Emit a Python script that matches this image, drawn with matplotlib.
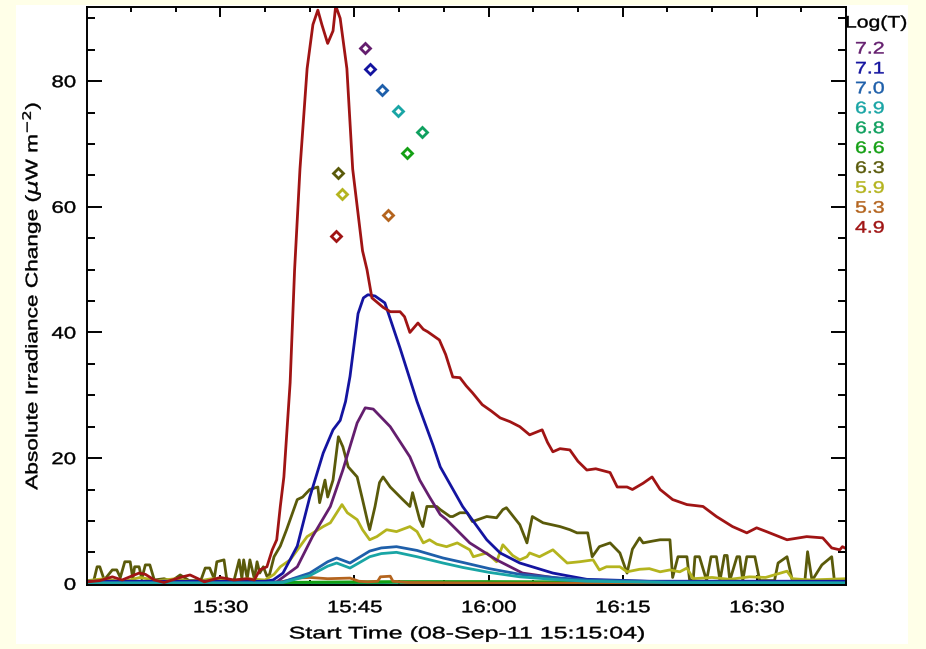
import matplotlib
matplotlib.use("Agg")
import matplotlib.pyplot as plt
from matplotlib.patches import Rectangle
from matplotlib.ticker import MultipleLocator, FixedLocator
from matplotlib.patheffects import AbstractPathEffect
from matplotlib.transforms import Affine2D

plt.rcParams['font.family'] = ['Liberation Sans', 'DejaVu Sans']

# ---- data: time in minutes after 15:00, values in uW m^-2 ----
t_72 = [15.07, 35, 36.3, 38.6, 40.3, 42.3, 43.7, 45.3, 46.2, 47.1, 49.0, 51.2, 52.3, 53.4, 54.6, 55.3, 57.9, 60.9, 63.8, 69.1, 78.0, 100.0]
v_72 = [0.2, 0.2, 0.3, 2.7, 7.5, 12.3, 18.1, 25.6, 28.0, 27.8, 25.0, 20.2, 16.5, 13.8, 11.0, 10.2, 6.5, 3.8, 1.7, 0.6, 0.3, 0.2]

t_71 = [15.07, 35, 35.9, 37.0, 38.6, 40.0, 41.5, 42.6, 43.4, 44.0, 44.5, 45.4, 46.0, 46.5, 47.3, 48.4, 50.1, 52.0, 53.8, 54.6, 57.1, 59.8, 61.3, 63.5, 67.2, 71.0, 78.0, 100.0]
v_71 = [0.4, 0.4, 0.6, 1.7, 6.0, 13.8, 20.8, 24.5, 26.0, 29.0, 33.0, 43.0, 45.5, 46.0, 45.8, 44.7, 37.5, 29.0, 22.0, 18.6, 12.3, 7.0, 4.9, 3.3, 1.7, 0.7, 0.4, 0.4]

t_70 = [15.07, 35, 37, 40, 42, 43, 44.5, 46.7, 48, 49.7, 52, 54.9, 57.1, 60.1, 63.5, 67.2, 71, 80, 100]
v_70 = [0.2, 0.2, 0.3, 1.7, 3.5, 4.1, 3.3, 5.2, 5.7, 5.9, 5.3, 4.1, 3.4, 2.4, 1.5, 1.0, 0.6, 0.3, 0.2]

t_69 = [15.07, 35, 37, 40, 42, 43, 44.5, 46.7, 48, 49.7, 52, 54.9, 57.1, 60.1, 63.5, 67.2, 71, 80, 100]
v_69 = [0.1, 0.1, 0.2, 1.3, 2.8, 3.3, 2.5, 4.3, 4.8, 5.0, 4.3, 3.3, 2.6, 1.8, 1.1, 0.7, 0.4, 0.2, 0.1]

t_68 = [15.07, 30, 40, 50, 60, 70, 80, 90, 100]
v_68 = [0.05, 0.05, 0.1, 0.2, 0.2, 0.15, 0.1, 0.05, 0.05]

t_66 = [15.07, 30, 40, 50, 60, 70, 80, 90, 100]
v_66 = [0.15, 0.15, 0.25, 0.35, 0.35, 0.3, 0.2, 0.2, 0.2]

t_63 = [15.1, 15.8, 16.2, 16.5, 17.0, 17.9, 18.4, 18.8, 19.3, 19.9, 20.2, 20.4, 20.9, 21.2, 21.6, 22.1, 22.6, 23.7, 24.5, 25.5, 26.5,
        27.8, 28.3, 28.8, 29.3, 29.6, 30.4, 30.7, 31.5, 32.1, 32.4, 32.6, 33.0, 33.3, 33.8, 34.1, 34.4, 34.8, 35.2, 35.5, 36.0, 36.7,
        37.4, 37.8, 38.6, 39.2, 40.0, 40.9, 41.1, 41.7, 42.0, 42.6, 43.2, 43.7, 44.3, 45.3, 45.9, 46.5, 46.7, 47.3, 47.8, 48.2, 49.0,
        50.4, 51.2, 51.5, 52.3, 52.65, 53.1, 54.2, 54.6, 55.7, 56.0, 56.8, 57.6, 58.2, 59.8, 60.9, 61.6, 62.0, 63.5, 64.3, 64.9, 66.1,
        68.0, 69.1, 69.9, 71.1, 71.6, 72.4, 73.6, 74.7, 75.5, 76.1, 76.9, 77.3, 78.4, 79.2, 80.0, 80.3, 80.6, 81.2, 82.2, 82.5, 82.9,
        83.1, 83.6, 84.4, 84.9, 85.5, 85.9, 86.4, 86.7, 87.0, 87.8, 88.1, 88.45, 88.9, 89.8, 90.35, 92.0, 92.4, 93.4, 94.0, 95.4, 95.7,
        96.2, 97.3, 98.4, 98.7, 100.0]
v_63 = [0.3, 0.3, 2.7, 2.7, 0.6, 2.2, 2.2, 1.0, 3.5, 3.5, 0.8, 2.7, 2.7, 0.8, 3.0, 3.0, 0.6, 0.8, 0.4, 1.4, 0.5,
        0.5, 2.5, 2.5, 0.8, 3.5, 3.8, 0.8, 0.4, 3.8, 0.8, 3.8, 0.8, 3.8, 0.8, 3.5, 1.7, 2.7, 1.2, 1.5, 4.3, 6.0,
        8.6, 10.2, 13.4, 13.8, 15.0, 15.4, 12.9, 16.5, 13.8, 16.5, 23.4, 21.8, 18.6, 17.0, 13.4, 9.7, 8.6, 12.3, 16.1, 17.0, 15.4,
        13.4, 12.3, 14.5, 10.2, 9.1, 12.3, 12.3, 11.8, 10.7, 10.7, 11.3, 11.3, 9.9, 10.7, 10.5, 11.8, 12.1, 9.4, 6.5, 10.7, 9.7,
        9.1, 8.6, 8.1, 8.1, 4.3, 5.9, 6.5, 4.9, 1.7, 5.5, 7.3, 6.5, 6.8, 7.0, 7.0, 7.0, 1.0, 4.3, 4.3, 0.6, 0.6,
        4.3, 4.3, 0.5, 4.3, 4.3, 0.5, 4.5, 4.5, 0.5, 4.3, 4.3, 0.5, 4.3, 4.3, 0.5, 0.5, 3.3, 4.3, 0.5, 0.5, 5.1,
        0.5, 3.0, 4.3, 0.5, 0.5]

t_59 = [15.1, 17, 19, 21, 23, 25, 27, 29, 31, 33, 35, 36.0, 36.7, 37.8, 39.7, 41.5, 42.3, 43.6, 44.2, 45.3, 45.9, 46.7, 47.5,
        48.6, 49.7, 51.2, 52.0, 52.7, 53.4, 54.2, 55.3, 56.5, 57.9, 58.3, 59.8, 60.9, 61.6, 62.7, 63.5, 64.3, 64.6, 65.7, 67.2,
        68.8, 70.2, 71.7, 72.4, 73.2, 74.7, 75.5, 76.9, 78.0, 79.2, 80.3, 81.4, 82.2, 82.9, 85, 87, 89.2, 91, 93.4, 94, 96, 98, 100]
v_59 = [0.5, 0.8, 0.3, 1.0, 0.5, 0.8, 0.3, 0.8, 0.4, 0.8, 0.6, 1.5, 2.7, 3.8, 7.5, 9.1, 9.7, 12.6, 11.3, 10.2, 8.6, 7.0, 7.5,
        8.6, 8.3, 9.1, 8.3, 6.5, 7.0, 6.3, 5.9, 6.5, 5.4, 4.3, 4.9, 3.5, 6.2, 4.5, 3.8, 4.3, 4.9, 4.3, 5.4,
        3.3, 3.5, 3.8, 2.2, 2.7, 2.7, 1.9, 2.3, 2.4, 1.9, 2.2, 1.9, 2.5, 0.8, 1.0, 0.7, 1.1, 1.0, 2.0, 0.8, 0.6, 0.7, 0.8]

t_53 = [15.07, 36, 37.5, 38.5, 40, 42, 44.5, 45.5, 46.5, 47.6, 47.9, 49.0, 49.3, 51, 60, 100]
v_53 = [0.05, 0.1, 0.5, 0.9, 1.0, 0.8, 0.9, 0.4, 0.3, 0.4, 1.1, 1.2, 0.4, 0.2, 0.1, 0.05]

t_49 = [15.1, 16.5, 17.9, 19.0, 20.9, 21.6, 22.6, 23.7, 25.5, 26.6, 27.5, 28.2, 30.0, 31.5, 33.0, 33.8, 34.4, 35.2, 35.8, 36.3,
        36.7, 37.1, 37.8, 38.3, 38.9, 39.7, 40.35, 40.9, 41.35, 42.0, 42.6, 42.9, 43.4, 44.15, 44.8, 45.9, 46.4, 46.95, 48.2,
        49.0, 50.1, 50.6, 51.2, 52.1, 52.7, 53.2, 54.5, 55.2, 56.0, 56.8, 57.5, 58.2, 59.3, 60.3, 61.3, 62.4, 63.5, 64.6, 66.0,
        66.6, 67.2, 68.0, 69.1, 70.0, 71.0, 72.0, 73.6, 74.4, 75.5, 76.1, 77.3, 78.3, 79.2, 80.6, 82.2, 84.0, 85.5, 87.3, 88.9,
        90.0, 91.1, 93.4, 95.6, 97.4, 98.4, 99.3, 99.6, 100.0]
v_49 = [0.3, 0.5, 1.1, 0.6, 1.7, 1.5, 0.6, 0.2, 1.0, 1.4, 0.8, 0.3, 1.0, 0.6, 0.8, 0.6, 2.2, 2.7, 5.4, 7.0,
        12.3, 17.0, 32.0, 50.0, 66.0, 82.0, 89.0, 91.3, 89.0, 86.0, 88.0, 92.0, 90.0, 82.0, 66.0, 53.0, 50.0, 45.5, 44.0,
        43.3, 43.3, 42.5, 40.0, 41.5, 40.5, 40.1, 38.8, 36.5, 32.9, 32.8, 31.5, 30.4, 28.5, 27.5, 26.4, 25.8, 25.0, 23.7, 24.5,
        22.5, 21.0, 21.5, 21.3, 19.5, 18.1, 18.3, 17.7, 15.4, 15.4, 15.0, 16.0, 17.0, 15.0, 13.4, 12.6, 12.3, 10.7, 9.1, 8.1,
        8.9, 8.3, 7.0, 7.5, 7.3, 5.7, 5.4, 5.9, 5.6]

# peak markers
peak_t = [46.17, 46.73, 48.07, 49.86, 52.54, 50.86, 43.15, 43.59, 48.74, 42.92]
peak_v = [85.3, 81.9, 78.6, 75.3, 71.9, 68.6, 65.4, 62.1, 58.7, 55.4]

labels = ['7.2', '7.1', '7.0', '6.9', '6.8', '6.6', '6.3', '5.9', '5.3', '4.9']
colors = ['#641E6E', '#1414A0', '#1E5FAA', '#19A5A5', '#0FA05F', '#14A014', '#5A5A0A', '#B4B41E', '#B4641E', '#A01414']

x_ticks = [30, 45, 60, 75, 90]
x_tick_labels = ['15:30', '15:45', '16:00', '16:15', '16:30']
y_ticks = [0, 20, 40, 60, 80]

series = {
    '7.2': (t_72, v_72), '7.1': (t_71, v_71), '7.0': (t_70, v_70), '6.9': (t_69, v_69),
    '6.8': (t_68, v_68), '6.6': (t_66, v_66), '6.3': (t_63, v_63), '5.9': (t_59, v_59),
    '5.3': (t_53, v_53), '4.9': (t_49, v_49),
}
draw_order = ['6.8', '6.6', '5.3', '6.3', '5.9', '7.2', '7.1', '7.0', '6.9', '4.9']


class Stretch(AbstractPathEffect):
    """Widen text glyphs along the text direction and thicken them slightly."""
    def __init__(self, sx, anchor='center', stroke=0.3):
        super().__init__()
        self.sx = sx
        self.anchor = anchor
        self.stroke = stroke

    def draw_path(self, renderer, gc, tpath, affine, rgbFace=None):
        v = tpath.vertices
        c = 0.0
        if len(v):
            x0, x1 = v[:, 0].min(), v[:, 0].max()
            c = {'center': 0.5 * (x0 + x1), 'left': x0, 'right': x1}[self.anchor]
        pre = Affine2D().translate(-c, 0).scale(self.sx, 1.0).translate(c, 0)
        gc0 = renderer.new_gc()
        gc0.copy_properties(gc)
        gc0.set_linewidth(self.stroke)
        if rgbFace is not None:
            gc0.set_foreground(rgbFace)
        gc0.set_joinstyle('round')
        renderer.draw_path(gc0, tpath, pre + affine, rgbFace)
        gc0.restore()


W, H = 926, 649
FS = 12
fig = plt.figure(figsize=(W / 100, H / 100), dpi=100)
fig.patch.set_facecolor('#FFFFE8')
bg = Rectangle((16 / W, 5 / H), (908 - 16) / W, (644 - 5) / H,
               transform=fig.transFigure, facecolor='white', edgecolor='none', zorder=-10)
fig.add_artist(bg)

ax = fig.add_axes([87 / W, 1 - 585 / H, (846 - 87) / W, (585 - 7) / H])
ax.set_facecolor('white')
ax.set_zorder(1)

col = dict(zip(labels, colors))
for k in draw_order:
    t, v = series[k]
    ax.plot(t, v, color=col[k], lw=2.0, solid_joinstyle='round')

for i, lab in enumerate(labels):
    ax.plot(peak_t[i], peak_v[i], marker='D', ms=5.5, mfc='white', mec=colors[i], mew=2.0, ls='none', zorder=5)

ax.set_xlim(15.07, 100.0)
ax.set_ylim(-0.2, 91.8)
ax.xaxis.set_major_locator(FixedLocator(x_ticks))
ax.set_xticklabels(x_tick_labels)
ax.xaxis.set_minor_locator(MultipleLocator(5))
ax.yaxis.set_major_locator(FixedLocator(y_ticks))
ax.yaxis.set_minor_locator(MultipleLocator(5))

ax.tick_params(which='both', direction='in', top=True, right=True, width=1.4, colors='black', labelsize=FS)
ax.tick_params(axis='x', which='major', length=7.5, pad=11)
ax.tick_params(axis='x', which='minor', length=3.8)
ax.tick_params(axis='y', which='major', length=11, pad=8)
ax.tick_params(axis='y', which='minor', length=5.8)
for s in ax.spines.values():
    s.set_linewidth(1.4)

xl = ax.set_xlabel('Start Time (08-Sep-11 15:15:04)', fontsize=FS, labelpad=8)
yl = ax.set_ylabel(r'Absolute Irradiance Change ($\mu$W m$^{-2}$)', fontsize=FS, labelpad=10)
xl.set_path_effects([Stretch(1.5)])
yl.set_path_effects([Stretch(1.36)])

# Log(T) key at right
tt = fig.text(845 / W, 1 - 23 / H, 'Log(T)', fontsize=FS, va='center', ha='left', color='black', zorder=3)
tt.set_path_effects([Stretch(1.27, 'left')])
for i, lab in enumerate(labels):
    tk = fig.text(855 / W, 1 - (49 + i * 19.9) / H, lab, fontsize=FS, va='center', ha='left', color=colors[i], zorder=3)
    tk.set_path_effects([Stretch(1.28, 'left')])

fig.canvas.draw()
for lbl in ax.get_xticklabels():
    lbl.set_path_effects([Stretch(1.33, 'center')])
for lbl in ax.get_yticklabels():
    lbl.set_path_effects([Stretch(1.33, 'right')])

fig.savefig('out.png', dpi=100, facecolor=fig.get_facecolor())
